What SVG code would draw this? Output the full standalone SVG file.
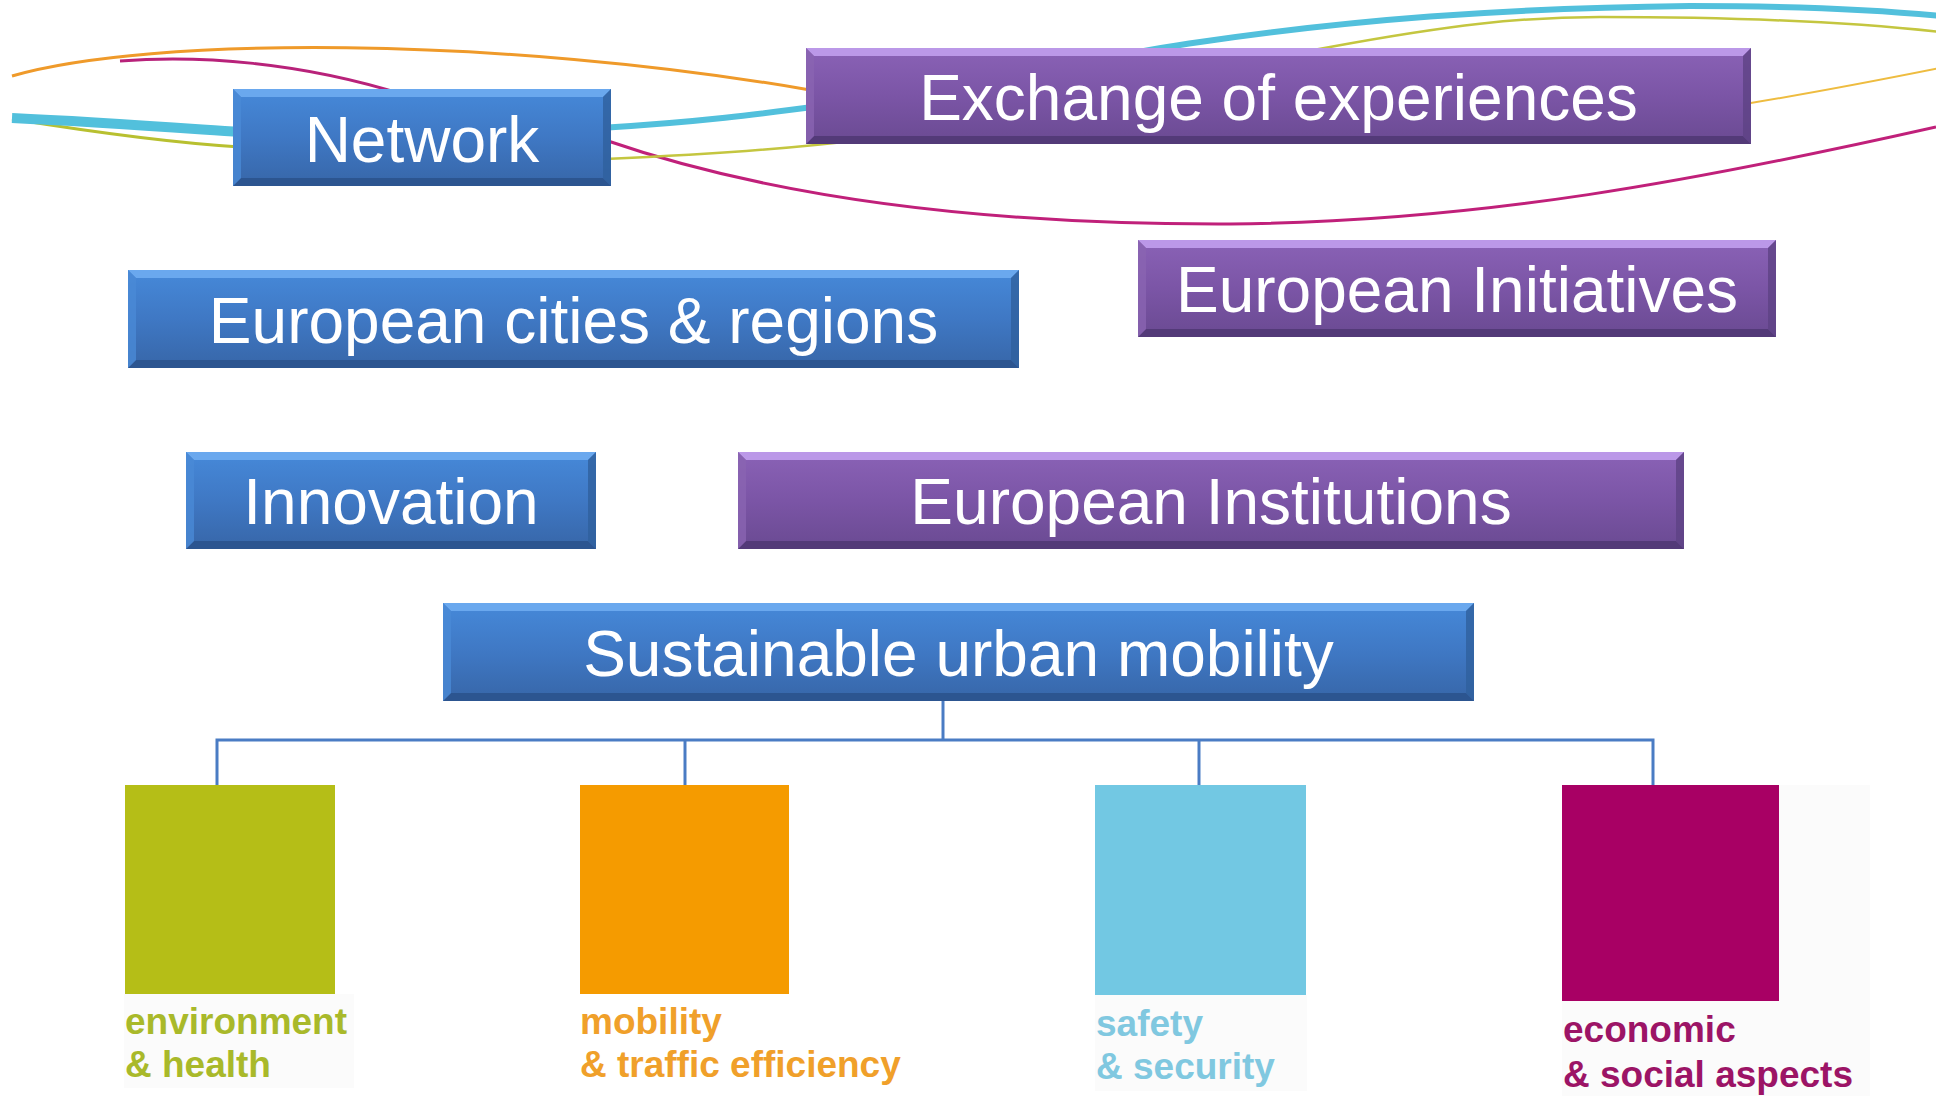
<svg xmlns="http://www.w3.org/2000/svg" width="1936" height="1096" viewBox="0 0 1936 1096">
<defs>
<linearGradient id="gBlue" x1="0" y1="0" x2="0" y2="1">
<stop offset="0" stop-color="#4689d9"/>
<stop offset="0.5" stop-color="#3f78c4"/>
<stop offset="1" stop-color="#3766a8"/>
</linearGradient>
<linearGradient id="gPurple" x1="0" y1="0" x2="0" y2="1">
<stop offset="0" stop-color="#8a62b6"/>
<stop offset="0.5" stop-color="#7b55a6"/>
<stop offset="1" stop-color="#6a4a92"/>
</linearGradient>
<style>
.bg{fill:#ffffff}
.blue .body{fill:url(#gBlue)}
.blue .bt{fill:#6aa8ee}
.blue .bl{fill:#4a8ad6;opacity:0.8}
.blue .br{fill:#30609e;opacity:0.8}
.blue .bb{fill:#2c5590}
.purple .body{fill:url(#gPurple)}
.purple .bt{fill:#bb98e8}
.purple .bl{fill:#8a64b2;opacity:0.8}
.purple .br{fill:#5e4284;opacity:0.8}
.purple .bb{fill:#533a78}
.node text{font-family:"Liberation Sans",Arial,sans-serif;font-size:64px;fill:#ffffff;text-anchor:middle}
.cat text{font-family:"Liberation Sans",Arial,sans-serif;font-size:37px;font-weight:bold}
.curve{fill:none;stroke-linecap:butt}
.conn{fill:none;stroke:#4a7cc4;stroke-width:3}
.patch{fill:#fbfbfb}
</style>
</defs>
<rect class="bg" x="0" y="0" width="1936" height="1096"/>

<g id="decor-curves">
<path class="curve" d="M12,76 C150,36 500,36 810,90" stroke="#ef9a2a" stroke-width="3"/>
<path class="curve" d="M120,61 C200,55 300,62 405,95" stroke="#b8227a" stroke-width="3"/>
<path class="curve" d="M605,140 C750,190 950,225 1230,224 C1480,222 1700,180 1936,127" stroke="#c0207a" stroke-width="3"/>
<path class="curve" d="M12,119 C80,130 160,142 240,147" stroke="#b8c030" stroke-width="3"/>
<path class="curve" d="M605,159 C700,155 780,150 860,140 C1050,110 1200,70 1330,47 C1450,25 1520,17 1600,17 C1750,17 1850,22 1940,32" stroke="#c4c640" stroke-width="2.5"/>
<path class="curve" d="M1745,104 C1800,95 1880,80 1940,68" stroke="#eebc40" stroke-width="2"/>
<path class="curve" d="M12,118 C100,122 180,128 240,132" stroke="#52c0dc" stroke-width="10"/>
<path class="curve" d="M600,128 C700,122 760,114 820,106 C1000,85 1100,55 1200,42 C1350,20 1500,8 1690,6 C1800,6 1880,10 1940,16" stroke="#52c0dc" stroke-width="6"/>
</g>

<g id="connectors">
<path class="conn" d="M943,701 V740"/>
<path class="conn" d="M217,785 V740 H1653 V785"/>
<path class="conn" d="M685,740 V785"/>
<path class="conn" d="M1199,740 V785"/>
</g>

<g id="n-network" class="node blue">
<rect class="body" x="233" y="89" width="378" height="97"/>
<polygon class="bt" points="233,89 611,89 603,97 241,97"/>
<polygon class="bb" points="233,186 611,186 603,178 241,178"/>
<polygon class="bl" points="233,89 241,97 241,178 233,186"/>
<polygon class="br" points="611,89 603,97 603,178 611,186"/>
<text x="422" y="162">Network</text>
</g>

<g id="n-exchange" class="node purple">
<rect class="body" x="806" y="48" width="945" height="96"/>
<polygon class="bt" points="806,48 1751,48 1743,56 814,56"/>
<polygon class="bb" points="806,144 1751,144 1743,136 814,136"/>
<polygon class="bl" points="806,48 814,56 814,136 806,144"/>
<polygon class="br" points="1751,48 1743,56 1743,136 1751,144"/>
<text x="1278.5" y="120">Exchange of experiences</text>
</g>

<g id="n-cities" class="node blue">
<rect class="body" x="128" y="270" width="891" height="98"/>
<polygon class="bt" points="128,270 1019,270 1011,278 136,278"/>
<polygon class="bb" points="128,368 1019,368 1011,360 136,360"/>
<polygon class="bl" points="128,270 136,278 136,360 128,368"/>
<polygon class="br" points="1019,270 1011,278 1011,360 1019,368"/>
<text x="573.5" y="343">European cities &amp; regions</text>
</g>

<g id="n-initiatives" class="node purple">
<rect class="body" x="1138" y="240" width="638" height="97"/>
<polygon class="bt" points="1138,240 1776,240 1768,248 1146,248"/>
<polygon class="bb" points="1138,337 1776,337 1768,329 1146,329"/>
<polygon class="bl" points="1138,240 1146,248 1146,329 1138,337"/>
<polygon class="br" points="1776,240 1768,248 1768,329 1776,337"/>
<text x="1457" y="312">European Initiatives</text>
</g>

<g id="n-innovation" class="node blue">
<rect class="body" x="186" y="452" width="410" height="97"/>
<polygon class="bt" points="186,452 596,452 588,460 194,460"/>
<polygon class="bb" points="186,549 596,549 588,541 194,541"/>
<polygon class="bl" points="186,452 194,460 194,541 186,549"/>
<polygon class="br" points="596,452 588,460 588,541 596,549"/>
<text x="391" y="524">Innovation</text>
</g>

<g id="n-institutions" class="node purple">
<rect class="body" x="738" y="452" width="946" height="97"/>
<polygon class="bt" points="738,452 1684,452 1676,460 746,460"/>
<polygon class="bb" points="738,549 1684,549 1676,541 746,541"/>
<polygon class="bl" points="738,452 746,460 746,541 738,549"/>
<polygon class="br" points="1684,452 1676,460 1676,541 1684,549"/>
<text x="1211" y="524">European Institutions</text>
</g>

<g id="n-sustainable" class="node blue">
<rect class="body" x="443" y="603" width="1031" height="98"/>
<polygon class="bt" points="443,603 1474,603 1466,611 451,611"/>
<polygon class="bb" points="443,701 1474,701 1466,693 451,693"/>
<polygon class="bl" points="443,603 451,611 451,693 443,701"/>
<polygon class="br" points="1474,603 1466,611 1466,693 1474,701"/>
<text x="958.5" y="676">Sustainable urban mobility</text>
</g>

<g id="c-environment" class="cat">
<rect class="patch" x="124" y="994" width="230" height="94"/>
<rect x="125" y="785" width="210" height="209" fill="#b5be17"/>
<text x="125" y="1034" fill="#a9b92a">environment</text>
<text x="125" y="1077" fill="#a9b92a">&amp; health</text>
</g>

<g id="c-mobility" class="cat">
<rect x="580" y="785" width="209" height="209" fill="#f59b00"/>
<text x="580" y="1034" fill="#f0a02a">mobility</text>
<text x="580" y="1077" fill="#f0a02a">&amp; traffic efficiency</text>
</g>

<g id="c-safety" class="cat">
<rect class="patch" x="1095" y="995" width="212" height="96"/>
<rect x="1095" y="785" width="211" height="210" fill="#72c8e3"/>
<text x="1096" y="1036" fill="#80c8e0">safety</text>
<text x="1096" y="1079" fill="#80c8e0">&amp; security</text>
</g>

<g id="c-economic" class="cat">
<rect class="patch" x="1562" y="785" width="308" height="311"/>
<rect x="1562" y="785" width="217" height="216" fill="#a80064"/>
<text x="1563" y="1042" fill="#9c1466">economic</text>
<text x="1563" y="1087" fill="#9c1466">&amp; social aspects</text>
</g>
</svg>
